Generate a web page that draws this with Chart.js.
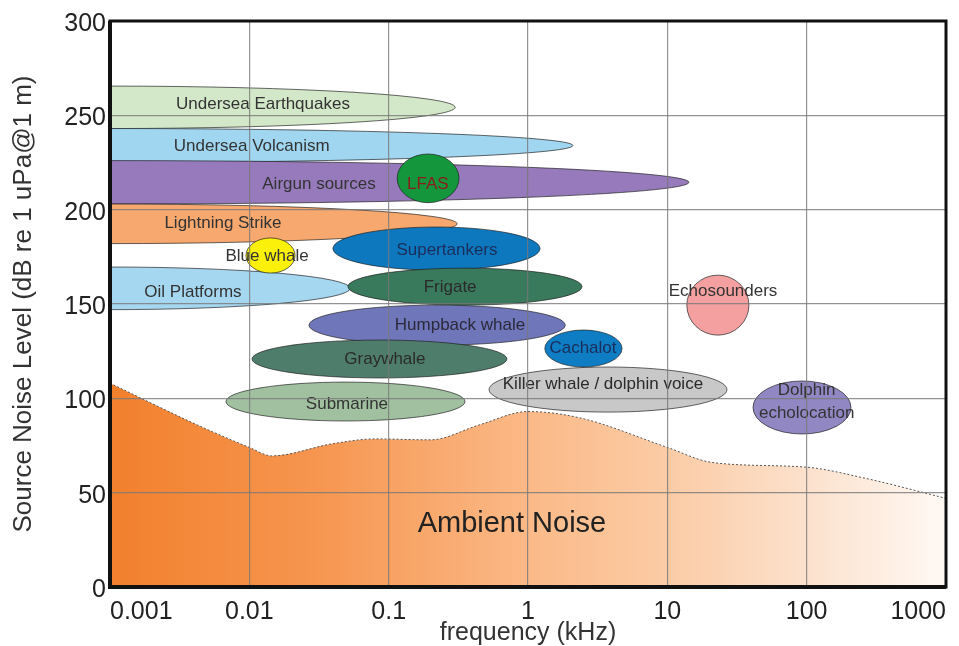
<!DOCTYPE html>
<html>
<head>
<meta charset="utf-8">
<title>Source Noise Levels</title>
<script src="https://cdn.jsdelivr.net/npm/chart.js@4.4.1/dist/chart.umd.min.js"></script>
<style>
  body { margin: 0; background: #fff; }
  #wrap { width: 959px; height: 646px; }
</style>
</head>
<body>
<div id="wrap"><canvas id="noiseChart" width="959" height="646"></canvas></div>
<script>
//AXIS TICKS
const xTicks = [0.001, 0.01, 0.1, 1, 10, 100, 1000];
const xTickLabels = ["0.001", "0.01", "0.1", "1", "10", "100", "1000"];
const yTicks = [0, 50, 100, 150, 200, 250, 300];

//AMBIENT NOISE CURVE (kHz, dB)
const noiseFreq = [0.001, 0.0045, 0.01, 0.0145, 0.04, 0.08, 0.2, 0.45, 1, 2.4, 10, 21, 100, 250, 1000];
const noiseLevel = [108, 85, 74, 69.5, 76, 78.5, 78, 86, 93, 89.5, 74, 66, 63.5, 58, 47];

//NOISE SOURCES: FREQUENCY SPAN (kHz) AND LEVEL SPAN (dB)
const sourceNames = [
  "Undersea Earthquakes", "Undersea Volcanism", "Airgun sources", "Lightning Strike",
  "Oil Platforms", "Supertankers", "Frigate", "Humpback whale", "Graywhale", "Submarine",
  "Killer whale / dolphin voice", "Cachalot", "LFAS", "Blue whale", "Echosounders",
  "Dolphin\necholocation"
];
const sourceFreqLow = [3.3e-6, 4.8e-7, 7e-8, 3.2e-6, 1.9e-5, 0.0398, 0.051, 0.0268, 0.01045, 0.0068, 0.525, 1.32, 0.115, 0.00946, 13.8, 41.2];
const sourceFreqHigh = [0.30, 2.1, 14.3, 0.31, 0.053, 1.22, 2.44, 1.85, 0.706, 0.353, 26.8, 4.73, 0.32, 0.0213, 38.5, 208];
const sourceDbLow = [243, 225, 203, 182, 147, 168, 149.4, 128.2, 110.8, 88, 92.7, 116.6, 203.7, 166.4, 133.5, 81.1];
const sourceDbHigh = [265.5, 243, 226, 203, 169.6, 190.8, 169, 149.4, 130.9, 108.6, 116.6, 136.2, 229.5, 185, 165.3, 109.2];
//WHERE EACH NAME SITS (kHz, dB)
const labelFreq = [0.01253, 0.0104, 0.0316, 0.00647, 0.00394, 0.262, 0.276, 0.325, 0.094, 0.0502, 3.45, 2.48, 0.191, 0.0134, 25.1, 100];
const labelDb = [256, 233.7, 213.6, 193, 156.3, 178.6, 159, 138.8, 120.8, 97, 107.6, 126.7, 213.6, 175.4, 156.9, 98.3];

//COLOURS
const sourceColors = [
  "#d3e8c8", "#a0d6f0", "#967abc", "#f7a86e", "#a5d7f0", "#0e78be", "#3a7a5c", "#7076ba",
  "#4e7d6c", "#a0c0a0", "#c8c8c8", "#0e7dc3", "#14963c", "#faf00a", "#f5a0a0", "#9187c3"
];
const labelColors = [
  "#333", "#333", "#333", "#333", "#333", "#1b2d5a", "#2a2a2a", "#2a2a3a",
  "#2a2a2a", "#333", "#2a2a2a", "#1b2d5a", "#8a1c1c", "#333", "#333", "#333"
];

const FONT = "'Liberation Sans', Arial, sans-serif";

const sourcesPlugin = {
  id: "sources",
  afterDatasetsDraw(chart) {
    const { ctx, chartArea, scales } = chart;
    const x = scales.x, y = scales.y;
    ctx.save();
    ctx.beginPath();
    ctx.rect(chartArea.left, chartArea.top, chartArea.width, chartArea.height);
    ctx.clip();

    //ELLIPSES
    for (let i = 0; i < sourceNames.length; i++) {
      const x1 = x.getPixelForValue(sourceFreqLow[i]);
      const x2 = x.getPixelForValue(sourceFreqHigh[i]);
      const y1 = y.getPixelForValue(sourceDbHigh[i]);
      const y2 = y.getPixelForValue(sourceDbLow[i]);
      ctx.beginPath();
      ctx.ellipse((x1 + x2) / 2, (y1 + y2) / 2, (x2 - x1) / 2, (y2 - y1) / 2, 0, 0, Math.PI * 2);
      ctx.fillStyle = sourceColors[i];
      ctx.fill();
      ctx.lineWidth = 0.8;
      ctx.strokeStyle = "rgba(30,30,30,0.85)";
      ctx.stroke();
    }

    //NAMES
    ctx.font = "17px " + FONT;
    ctx.textAlign = "center";
    ctx.textBaseline = "middle";
    for (let i = 0; i < sourceNames.length; i++) {
      const lines = sourceNames[i].split("\n");
      const cx = x.getPixelForValue(labelFreq[i]);
      const cy = y.getPixelForValue(labelDb[i]);
      ctx.fillStyle = labelColors[i];
      lines.forEach((line, k) => {
        ctx.fillText(line, cx, cy + (k - (lines.length - 1) / 2) * 23);
      });
    }

    ctx.font = "29px " + FONT;
    ctx.fillStyle = "#222";
    ctx.fillText("Ambient Noise", x.getPixelForValue(0.767), y.getPixelForValue(33.5));
    ctx.restore();
  },
  afterDraw(chart) {
    //BLACK FRAME ROUND THE PLOT
    const { ctx, chartArea } = chart;
    ctx.save();
    ctx.strokeStyle = "#111";
    ctx.lineWidth = 3;
    ctx.strokeRect(chartArea.left, chartArea.top, chartArea.width, chartArea.height);
    ctx.lineWidth = 4;
    ctx.beginPath();
    ctx.moveTo(chartArea.left, chartArea.top);
    ctx.lineTo(chartArea.left, chartArea.bottom);
    ctx.lineTo(chartArea.right, chartArea.bottom);
    ctx.stroke();
    ctx.restore();
  }
};

function ambientFill(context) {
  const { ctx, chartArea } = context.chart;
  if (!chartArea) return null;
  const g = ctx.createLinearGradient(chartArea.left, 0, chartArea.right, 0);
  g.addColorStop(0, "rgb(242,128,45)");
  g.addColorStop(0.25, "rgb(246,150,80)");
  g.addColorStop(0.5, "rgb(251,185,135)");
  g.addColorStop(0.68, "rgb(251,205,168)");
  g.addColorStop(0.84, "rgb(252,226,206)");
  g.addColorStop(1, "rgb(255,249,244)");
  return g;
}

const chart = new Chart(document.getElementById("noiseChart"), {
  type: "line",
  data: {
    datasets: [
      {
        label: "Ambient Noise",
        data: noiseFreq.map((f, i) => ({ x: f, y: noiseLevel[i] })),
        fill: "origin",
        backgroundColor: ambientFill,
        borderColor: "#555",
        borderWidth: 1,
        borderDash: [2, 2],
        pointRadius: 0,
        cubicInterpolationMode: "monotone",
      },
    ],
  },
  options: {
    responsive: false,
    animation: false,
    layout: { padding: { top: 21, right: 13, left: 0, bottom: 0 } },
    plugins: { legend: { display: false }, tooltip: { enabled: false } },
    scales: {
      x: {
        type: "logarithmic",
        min: 0.001,
        max: 1000,
        afterBuildTicks: (axis) => {
          axis.ticks = xTicks.map((v) => ({ value: v }));
        },
        afterFit: (axis) => {
          axis.height = 59;
        },
        ticks: {
          align: "inner",
          autoSkip: false,
          maxRotation: 0,
          padding: 10,
          color: "#222",
          font: { size: 25, family: FONT },
          callback: (value) => xTickLabels[xTicks.indexOf(value)],
        },
        grid: { color: "rgba(120,120,120,0.8)", lineWidth: 1.2, drawTicks: false, z: 1 },
        border: { display: false },
        title: {
          display: true,
          text: "frequency (kHz)",
          color: "#333",
          font: { size: 25, family: FONT, lineHeight: 1.0 },
          padding: { top: 0, bottom: 0 },
        },
      },
      y: {
        type: "linear",
        min: 0,
        max: 300,
        afterBuildTicks: (axis) => {
          axis.ticks = yTicks.map((v) => ({ value: v }));
        },
        afterFit: (axis) => {
          axis.width = 110;
        },
        ticks: {
          padding: 4,
          labelOffset: 3,
          color: "#222",
          font: { size: 25, family: FONT },
        },
        grid: { color: "rgba(120,120,120,0.8)", lineWidth: 1.2, drawTicks: false, z: 1 },
        border: { display: false },
        title: {
          display: true,
          text: "Source Noise Level (dB re 1 uPa@1 m)",
          color: "#333",
          font: { size: 26, family: FONT },
          padding: { top: 8, bottom: 0 },
        },
      },
    },
  },
  plugins: [sourcesPlugin],
});
</script>
</body>
</html>
